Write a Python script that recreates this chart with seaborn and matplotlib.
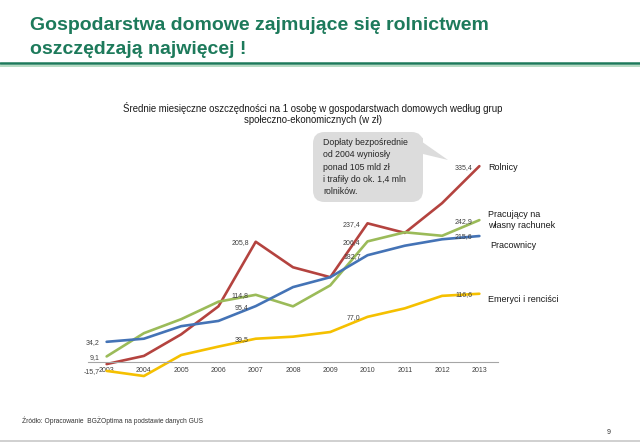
import pandas as pd
import seaborn as sns
import matplotlib.pyplot as plt
from matplotlib.patches import FancyBboxPatch, Polygon
from matplotlib.lines import Line2D

# Data (zl per person per month)
years = [2003, 2004, 2005, 2006, 2007, 2008, 2009, 2010, 2011, 2012, 2013]
rolnicy = [-4, 10, 47, 95, 205.8, 162, 145, 237.4, 221, 272, 335.4]
wlasny_rachunek = [9.1, 49, 73, 103, 114.8, 95, 131, 206.4, 222, 216, 242.9]
pracownicy = [34.2, 39.5, 61, 70, 95.4, 128, 145, 182.7, 199, 210, 215.6]
emeryci = [-15.7, -24.5, 11.5, 26, 39.5, 43, 51, 77.0, 91.6, 113, 116.6]

series_names = ['Rolnicy', 'Pracujący na\nwłasny rachunek', 'Pracownicy', 'Emeryci i renciści']
series_values = [rolnicy, wlasny_rachunek, pracownicy, emeryci]
label_idx = {'Rolnicy': [4, 7, 10],
             'Pracujący na\nwłasny rachunek': [0, 4, 7, 10],
             'Pracownicy': [0, 4, 7, 10],
             'Emeryci i renciści': [0, 4, 7, 10]}

palette = {'Rolnicy': '#B4433F',
           'Pracujący na\nwłasny rachunek': '#9BBB59',
           'Pracownicy': '#4473B6',
           'Emeryci i renciści': '#F5C000'}

rows = []
for name, vals in zip(series_names, series_values):
    for y, v in zip(years, vals):
        rows.append({'rok': y, 'wartosc': v, 'grupa': name})
df = pd.DataFrame(rows)

sns.set_style('white')
plt.rcParams['font.family'] = ['Liberation Sans', 'DejaVu Sans']

W, H = 640, 442
fig = plt.figure(figsize=(6.4, 4.42), dpi=100)


def px(x, y):
    # pixel (from top-left) -> figure fraction
    return x / W, 1 - y / H


ax = fig.add_axes([88 / W, 0.1156, 410 / W, 0.5937])
sns.lineplot(data=df, x='rok', y='wartosc', hue='grupa', palette=palette,
             hue_order=series_names, linewidth=1.9, legend=False, ax=ax)

ax.set_xlim(2002.5, 2013.5)
ax.set_ylim(-50, 400)
ax.set_xlabel('')
ax.set_ylabel('')
for s in ['top', 'right', 'left']:
    ax.spines[s].set_visible(False)
ax.spines['bottom'].set_position(('data', 0))
ax.spines['bottom'].set_color('#A6A6A6')
ax.spines['bottom'].set_linewidth(0.8)
ax.set_yticks([])
ax.set_xticks(years)
ax.set_xticklabels([str(y) for y in years], fontsize=5, color='#404040')
ax.set_xticks([y - 0.5 for y in years] + [2013.5], minor=True)
ax.tick_params(axis='x', which='major', length=0, pad=3.5)
ax.tick_params(axis='x', which='minor', length=3, direction='out',
               color='#A6A6A6', width=0.8)

# value labels
for name, vals in zip(series_names, series_values):
    for i in label_idx[name]:
        ax.annotate(f'{vals[i]:.1f}'.replace('.', ','), (years[i], vals[i]),
                    xytext=(-5, -0.7), textcoords='offset points',
                    ha='right', va='center', fontsize=5, color='#404040')

# series names on the right
right_labels = [('Rolnicy', 488, 167), ('Pracujący na\nwłasny rachunek', 488, 220),
                ('Pracownicy', 490, 246), ('Emeryci i renciści', 488, 300)]
for txt, x, y in right_labels:
    fig.text(*px(x, y), txt, fontsize=6.5, ha='left', va='center',
             color='#1A1A1A', linespacing=1.15)

# callout
bx0, by0, bx1, by1 = 313, 132, 423, 202
fx0, fy1 = px(bx0, by0)
fx1, fy0 = px(bx1, by1)
box = FancyBboxPatch((fx0, fy0), fx1 - fx0, fy1 - fy0,
                     boxstyle='round,pad=0,rounding_size=0.018',
                     transform=fig.transFigure, facecolor='#DCDCDC',
                     edgecolor='none', mutation_aspect=W / H)
fig.patches.append(box)
tail = Polygon([px(408, 132), px(448, 160), px(423, 154), px(423, 138)],
               closed=True, transform=fig.transFigure, facecolor='#DCDCDC',
               edgecolor='none')
fig.patches.append(tail)
fig.text(*px(323, 167), 'Dopłaty bezpośrednie\nod 2004 wyniosły\nponad 105 mld zł\n'
         'i trafiły do ok. 1,4 mln\nrolników.', fontsize=6.3, ha='left', va='center',
         color='#262626', linespacing=1.45)

# title and header line
fig.text(*px(30, 25), 'Gospodarstwa domowe zajmujące się rolnictwem',
         fontsize=14, fontweight='bold', color='#1D7A5B', ha='left', va='center')
fig.text(*px(30, 49), 'oszczędzają najwięcej !',
         fontsize=14, fontweight='bold', color='#1D7A5B', ha='left', va='center')
fig.add_artist(Line2D([0, 1], [1 - 63 / H] * 2, color='#1D7A5B', lw=1.8,
                      transform=fig.transFigure))
fig.add_artist(Line2D([0, 1], [1 - 65.5 / H] * 2, color='#A9D6B9', lw=1.2,
                      transform=fig.transFigure))

# chart subtitle
fig.text(*px(313, 113.5), 'Średnie miesięczne oszczędności na 1 osobę w gospodarstwach domowych według grup\n'
         'społeczno-ekonomicznych (w zł)', fontsize=6.9, ha='center', va='center',
         color='#1A1A1A', linespacing=1.1)

# footer
fig.text(*px(22, 421), 'Źródło: Opracowanie  BGŻOptima na podstawie danych GUS',
         fontsize=4.8, ha='left', va='center', color='#333333')
fig.text(*px(609, 433), '9', fontsize=5, ha='center', va='center', color='#333333')
fig.add_artist(Line2D([0, 1], [1 - 441 / H] * 2, color='#C8C8C8', lw=1.2,
                      transform=fig.transFigure))

fig.savefig('out.png', dpi=100)
